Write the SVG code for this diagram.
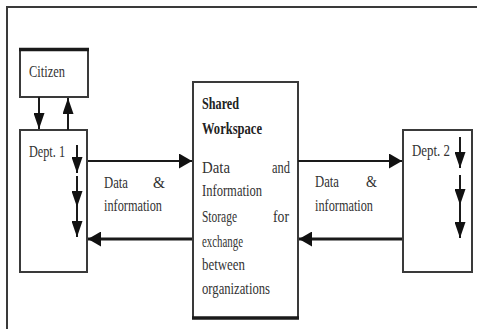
<svg xmlns="http://www.w3.org/2000/svg" width="477" height="329" viewBox="0 0 477 329">
<defs>
<style>
.box{fill:#fff;stroke:#3a3a3a;stroke-width:2}
.thick{stroke:#1a1a1a;stroke-width:3.5;fill:none}
.frame{stroke:#3a3a3a;stroke-width:2;fill:none}
.ln{stroke:#1a1a1a;stroke-width:2;fill:none}
.ln3{stroke:#1a1a1a;stroke-width:3;fill:none}
.t{font-family:"Liberation Serif","Times New Roman",serif;font-size:17px;fill:#333}
.b{font-weight:bold;fill:#222}
</style>
<marker id="ah" markerUnits="userSpaceOnUse" markerWidth="13" markerHeight="15" refX="13" refY="7.5" orient="auto">
<path d="M0,0 L13,7.5 L0,15 z" fill="#111"/>
</marker>
<marker id="av" markerUnits="userSpaceOnUse" markerWidth="16" markerHeight="11" refX="16" refY="5.5" orient="auto">
<path d="M0,0 L16,5.5 L0,11 z" fill="#111"/>
</marker>
</defs>
<rect width="477" height="329" fill="#fff"/>
<path class="frame" d="M7,329 V7 H477"/>

<g id="citizen">
<rect class="box" x="20" y="49" width="68" height="48"/>
<line class="thick" x1="19" y1="49.5" x2="89" y2="49.5"/>
<text class="t" x="29" y="77" textLength="36" lengthAdjust="spacingAndGlyphs">Citizen</text>
</g>

<g id="dept1">
<rect class="box" x="20" y="130" width="67" height="142"/>
<text class="t" x="29" y="157" textLength="36" lengthAdjust="spacingAndGlyphs">Dept. 1</text>
</g>

<g id="shared">
<rect class="box" x="193" y="82" width="105" height="236"/>
<line class="thick" x1="192" y1="318" x2="299" y2="318"/>
<text class="t b" x="202" y="109" textLength="37" lengthAdjust="spacingAndGlyphs">Shared</text>
<text class="t b" x="202" y="134" textLength="60" lengthAdjust="spacingAndGlyphs">Workspace</text>
<text class="t"><tspan x="202" y="173" textLength="28" lengthAdjust="spacingAndGlyphs">Data</tspan><tspan x="272" y="173" textLength="18" lengthAdjust="spacingAndGlyphs">and</tspan></text>
<text class="t" x="202" y="196" textLength="60" lengthAdjust="spacingAndGlyphs">Information</text>
<text class="t"><tspan x="202" y="222" textLength="35" lengthAdjust="spacingAndGlyphs">Storage</tspan><tspan x="273" y="222" textLength="16" lengthAdjust="spacingAndGlyphs">for</tspan></text>
<text class="t" x="202" y="247" textLength="41" lengthAdjust="spacingAndGlyphs">exchange</text>
<text class="t" x="202" y="270" textLength="43" lengthAdjust="spacingAndGlyphs">between</text>
<text class="t" x="202" y="294" textLength="68" lengthAdjust="spacingAndGlyphs">organizations</text>
</g>

<g id="dept2">
<rect class="box" x="403" y="130" width="69" height="142"/>
<text class="t" x="412" y="156" textLength="38" lengthAdjust="spacingAndGlyphs">Dept. 2</text>
</g>

<g id="labels">
<text class="t"><tspan x="104" y="188" textLength="24" lengthAdjust="spacingAndGlyphs">Data</tspan><tspan x="153" y="188" textLength="12" lengthAdjust="spacingAndGlyphs">&amp;</tspan></text>
<text class="t" x="104" y="211" textLength="58" lengthAdjust="spacingAndGlyphs">information</text>
<text class="t"><tspan x="315" y="187" textLength="24" lengthAdjust="spacingAndGlyphs">Data</tspan><tspan x="366" y="187" textLength="11" lengthAdjust="spacingAndGlyphs">&amp;</tspan></text>
<text class="t" x="315" y="211" textLength="58" lengthAdjust="spacingAndGlyphs">information</text>
</g>

<g id="connectors">
<line class="ln" x1="39" y1="97" x2="39" y2="129" marker-end="url(#av)"/>
<line class="ln" x1="68" y1="130" x2="68" y2="98" marker-end="url(#av)"/>
<line class="ln" x1="77" y1="145" x2="77" y2="173" marker-end="url(#av)"/>
<line class="ln" x1="77" y1="176" x2="77" y2="207" marker-end="url(#av)"/>
<line class="ln" x1="77" y1="207" x2="77" y2="237" marker-end="url(#av)"/>
<line class="ln" x1="460" y1="137" x2="460" y2="168" marker-end="url(#av)"/>
<line class="ln" x1="460" y1="175" x2="460" y2="205" marker-end="url(#av)"/>
<line class="ln" x1="460" y1="205" x2="460" y2="238" marker-end="url(#av)"/>
<line class="ln" x1="88" y1="161" x2="192" y2="161" marker-end="url(#ah)"/>
<line class="ln" x1="298" y1="161" x2="402" y2="161" marker-end="url(#ah)"/>
<line class="ln3" x1="192" y1="239" x2="88" y2="239" marker-end="url(#ah)"/>
<line class="ln3" x1="402" y1="239" x2="299" y2="239" marker-end="url(#ah)"/>
</g>
</svg>
